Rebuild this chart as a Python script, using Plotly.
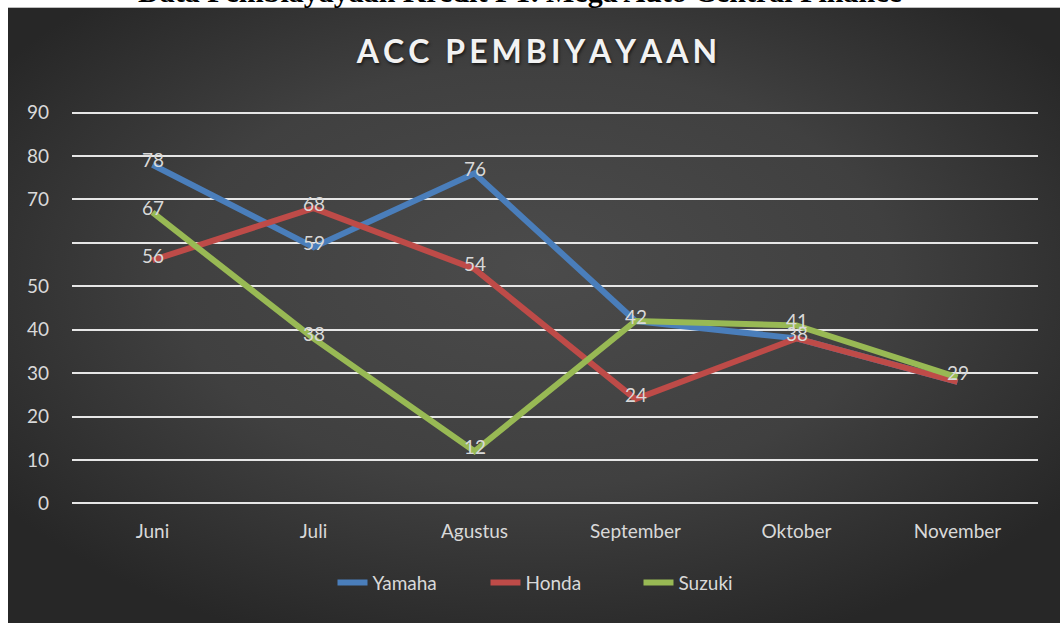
import base64
import plotly.graph_objects as go

# ---- data ----
months = ["Juni", "Juli", "Agustus", "September", "Oktober", "November"]
yamaha = [78, 59, 76, 42, 38, 28]
honda = [56, 68, 54, 24, 38, 28]
suzuki = [67, 38, 12, 42, 41, 29]
# labels as visible in the reference (coinciding ones are hidden beneath others)
yamaha_labels = ["78", "59", "76", "", "", ""]
honda_labels = ["56", "68", "54", "24", "38", ""]
suzuki_labels = ["67", "38", "12", "42", "41", "29"]
y_ticks = [0, 10, 20, 30, 40, 50, 60, 70, 80, 90]
y_ticktext = ["0", "10", "20", "30", "40", "50", "", "70", "80", "90"]

series = [
    ("Yamaha", yamaha, yamaha_labels, "#4a7ebb"),
    ("Honda", honda, honda_labels, "#be4b48"),
    ("Suzuki", suzuki, suzuki_labels, "#98b954"),
]

W, H = 1060, 623
Y0_PX, Y90_PX = 503, 113
UNIT = (Y0_PX - Y90_PX) / 90.0
PADV = 0.6
L, R = 72, 1038
T = Y90_PX - PADV * UNIT
B = Y0_PX + PADV * UNIT
PW, PH = R - L, B - T


def px_x(x):
    return (x - L) / PW


def px_y(y):
    return (B - y) / PH


FONT = "Lato, 'Open Sans', sans-serif"
TXT = "#d9d9d9"

svg = """<svg xmlns='http://www.w3.org/2000/svg' width='1052' height='615' viewBox='0 0 1052 615' preserveAspectRatio='none'>
<defs><radialGradient id='g' cx='50%' cy='45%' r='62%' fx='50%' fy='42%'>
<stop offset='0' stop-color='#4b4b4b'/><stop offset='0.55' stop-color='#404040'/><stop offset='1' stop-color='#272727'/>
</radialGradient></defs>
<rect width='1052' height='615' fill='url(#g)'/></svg>"""
bg_src = "data:image/svg+xml;base64," + base64.b64encode(svg.encode()).decode()

fig = go.Figure()
for name, vals, labels, color in series:
    fig.add_trace(go.Scatter(
        x=months, y=vals, name=name, mode="lines",
        line=dict(color=color, width=6),
        hoverinfo="skip",
    ))

annotations = []
for name, vals, labels, color in series:
    for m, v, lab in zip(months, vals, labels):
        if lab:
            annotations.append(dict(
                x=m, y=v, xref="x", yref="y", text=lab, showarrow=False,
                yshift=5, xanchor="center", yanchor="middle",
                font=dict(family=FONT, size=19, color=TXT),
            ))

annotations.append(dict(
    text="<b>Data Pembiayayaan Kredit PT. Mega Auto Central Finance</b>",
    xref="paper", yref="paper", x=px_x(520), y=px_y(11),
    xanchor="center", yanchor="bottom", showarrow=False,
    font=dict(family="'Liberation Serif', 'Times New Roman', serif", size=30, color="black"),
))

title_text = "\u2009".join("ACC") + "\u2002" + "\u2009".join("PEMBIYAYAAN")

fig.update_layout(
    width=W, height=H,
    margin=dict(l=L, r=W - R, t=T, b=H - B, pad=0),
    paper_bgcolor="white",
    plot_bgcolor="rgba(0,0,0,0)",
    font=dict(family=FONT, color=TXT, size=19),
    title=dict(
        text=title_text,
        x=537 / W, xanchor="center", xref="container",
        y=1 - 52 / H, yanchor="middle", yref="container",
        font=dict(family=FONT, size=32, color="#f2f2f2", weight="bold",
                  shadow="1px 2px 3px rgba(0,0,0,0.6)"),
    ),
    xaxis=dict(
        range=[-0.5, 5.5], showgrid=False, zeroline=False, showline=False,
        ticks="", tickfont=dict(family=FONT, size=19, color=TXT),
        ticklabelstandoff=12, fixedrange=True,
    ),
    yaxis=dict(
        range=[-PADV, 90 + PADV], tickvals=y_ticks, ticktext=y_ticktext,
        showgrid=True, gridcolor="#e6e6e6", gridwidth=2,
        zeroline=False, showline=False, ticks="",
        tickfont=dict(family=FONT, size=19, color=TXT),
        ticklabelstandoff=22, fixedrange=True,
    ),
    legend=dict(
        orientation="h", x=px_x(562), xanchor="center",
        y=px_y(582), yanchor="middle",
        font=dict(family=FONT, size=19, color=TXT),
        bgcolor="rgba(0,0,0,0)", entrywidth=108, entrywidthmode="pixels",
        tracegroupgap=0,
    ),
    showlegend=True,
    images=[dict(
        source=bg_src, xref="paper", yref="paper",
        x=px_x(8), y=px_y(8), sizex=(W - 8) / PW, sizey=(H - 8) / PH,
        xanchor="left", yanchor="top", sizing="stretch", layer="below",
    )],
    annotations=annotations,
)

fig.write_html("out.html")
